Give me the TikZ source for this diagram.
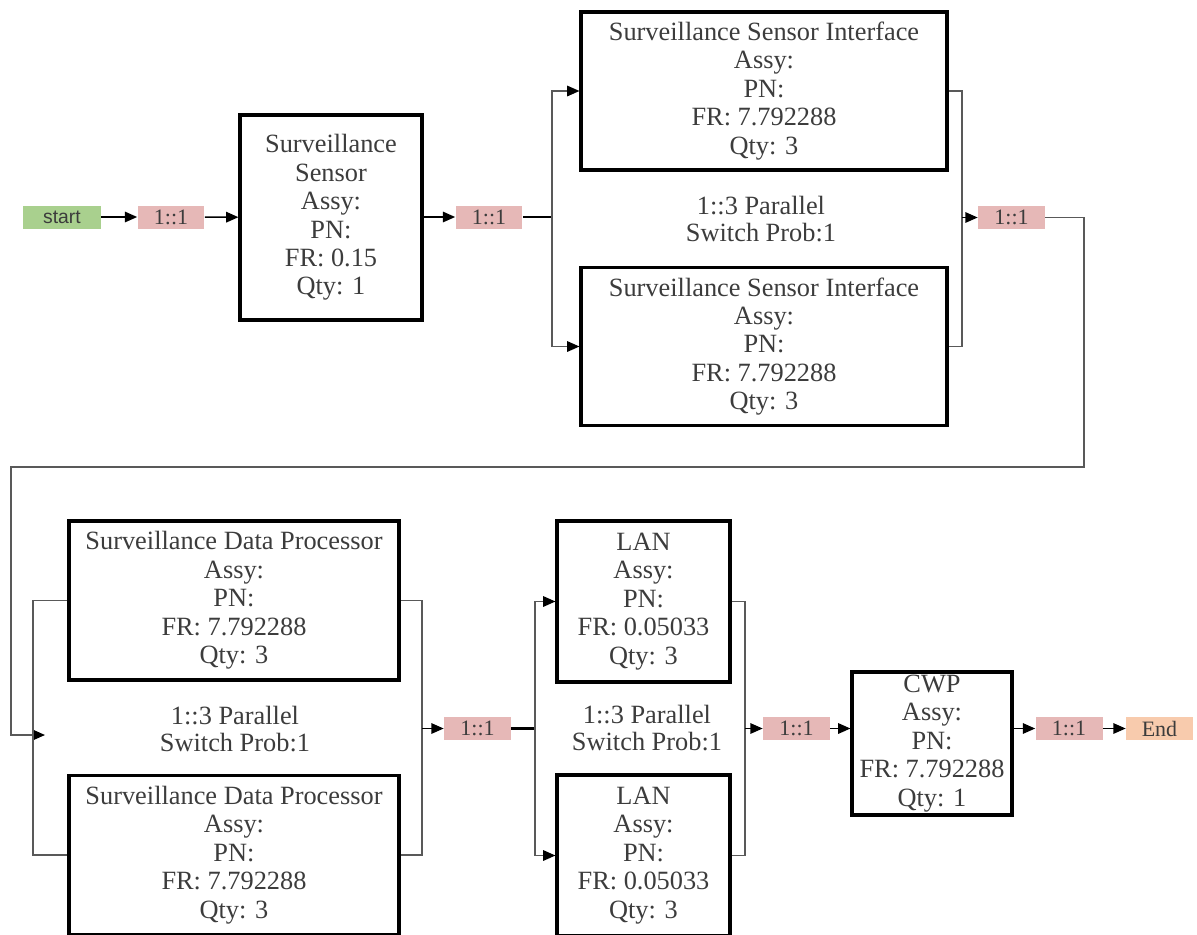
\documentclass[tikz,border=0pt]{standalone}
\usepackage{fontspec}
\setmainfont{Liberation Serif}
\newfontfamily\startfont{Liberation Sans}
\usepackage{tikz}
\usetikzlibrary{arrows.meta,positioning,calc}
\definecolor{start-green}{RGB}{169,208,142}
\definecolor{ratio-pink}{RGB}{230,184,183}
\definecolor{end-peach}{RGB}{248,203,173}
\definecolor{text-gray}{RGB}{60,60,60}

\begin{document}
\begin{tikzpicture}[x=0.02cm, y=-0.02cm,
    block/.style={rectangle, draw, line width=1.8pt, align=center, text=text-gray, inner sep=0pt, font=\fontsize{15}{16.2}\selectfont},
    tag/.style={rectangle, fill=ratio-pink, minimum width=1.34cm, minimum height=0.46cm, inner sep=0pt, text=text-gray, font=\fontsize{12.5}{13}\selectfont},
    note/.style={align=center, text=text-gray, font=\fontsize{15}{15.2}\selectfont},
    arrow/.style={-{Triangle[length=7pt, width=6pt, color=black]}, line width=0.8pt},
    wire/.style={draw=black!65, line width=0.8pt}]

    \useasboundingbox (0,0) rectangle (1197,934);
    \clip (0,0) rectangle (1197,934);

    % Row 1: sensor and interfaces
    \node[tag, fill=start-green, minimum width=1.56cm, font=\startfont\fontsize{11}{12}\selectfont] (start) at (62,217) {start};
    \node[tag] (r1) at (171,217) {1::1};
    \node[block, minimum width=3.64cm, minimum height=4.1cm] (ss) at (331,217.5) {Surveillance\\Sensor\\Assy:\\PN:\\FR: 0.15\\Qty: 1};
    \node[tag] (r2) at (489,217) {1::1};
    \node[block, minimum width=7.32cm, minimum height=3.16cm] (ssi1) at (764,91) {Surveillance Sensor Interface\\Assy:\\PN:\\FR: 7.792288\\Qty: 3};
    \node[block, minimum width=7.32cm, minimum height=3.16cm] (ssi2) at (764,346.5) {Surveillance Sensor Interface\\Assy:\\PN:\\FR: 7.792288\\Qty: 3};
    \node[note] (p1) at (761,219) {1::3 Parallel\\Switch Prob:1};
    \node[tag] (r3) at (1011.5,217.5) {1::1};

    % Row 2: processors, LAN and CWP
    \node[block, minimum width=6.6cm, minimum height=3.18cm] (sdp1) at (234,600.5) {Surveillance Data Processor\\Assy:\\PN:\\FR: 7.792288\\Qty: 3};
    \node[block, minimum width=6.6cm, minimum height=3.18cm] (sdp2) at (234,855) {Surveillance Data Processor\\Assy:\\PN:\\FR: 7.792288\\Qty: 3};
    \node[note] (p2) at (235,729) {1::3 Parallel\\Switch Prob:1};
    \node[tag] (r4) at (477.5,728.5) {1::1};
    \node[block, minimum width=3.46cm, minimum height=3.22cm] (lan1) at (643.5,601.5) {LAN\\Assy:\\PN:\\FR: 0.05033\\Qty: 3};
    \node[block, minimum width=3.46cm, minimum height=3.22cm] (lan2) at (643.5,855.5) {LAN\\Assy:\\PN:\\FR: 0.05033\\Qty: 3};
    \node[note] (p3) at (647,728) {1::3 Parallel\\Switch Prob:1};
    \node[tag] (r5) at (796.5,728.5) {1::1};
    \node[block, minimum width=3.2cm, minimum height=2.86cm] (cwp) at (932,743.5) {CWP\\Assy:\\PN:\\FR: 7.792288\\Qty: 1};
    \node[tag] (r6) at (1069,728.5) {1::1};
    \node[tag, fill=end-peach] (end) at (1159.5,728.5) {End};

    % Split and merge points
    \coordinate (s1) at (552,217);
    \coordinate (m1) at (962,217.5);
    \coordinate (c1) at (1084,467);
    \coordinate (c2) at (11,735);
    \coordinate (in2) at (45,735);
    \coordinate (s2) at (33,728);
    \coordinate (m2) at (422,728.5);
    \coordinate (s3) at (535,728.5);
    \coordinate (m3) at (745,728.5);

    % Row 1 connectors
    \draw[arrow] (start) -- (r1);
    \draw[arrow] (r1) -- (ss);
    \draw[arrow] (ss.east |- r2.west) -- (r2);
    \draw[line width=1.3pt] (r2) -- (s1);
    \draw[wire, arrow] (s1) |- (ssi1.west);
    \draw[wire, arrow] (s1) |- (ssi2.west);
    \draw[wire] (ssi1.east) -| (m1) |- (ssi2.east);
    \draw[arrow] (m1) -- (r3);

    % Wrap to row 2
    \draw[wire, arrow] (r3.east) -| (c1) -| (c2) -- (in2);

    % Row 2 connectors
    \draw[wire] (sdp1.west) -| (s2) |- (sdp2.west);
    \draw[wire] (sdp1.east) -| (m2) |- (sdp2.east);
    \draw[arrow] (m2) -- (r4);
    \draw[line width=1.3pt] (r4) -- (s3);
    \draw[wire, arrow] (s3) |- (lan1.west);
    \draw[wire, arrow] (s3) |- (lan2.west);
    \draw[wire] (lan1.east) -| (m3) |- (lan2.east);
    \draw[arrow] (m3) -- (r5);
    \draw[arrow] (r5) -- (r5 -| cwp.west);
    \draw[arrow] (cwp.east |- r6.west) -- (r6);
    \draw[arrow] (r6) -- (end);
\end{tikzpicture}
\end{document}
